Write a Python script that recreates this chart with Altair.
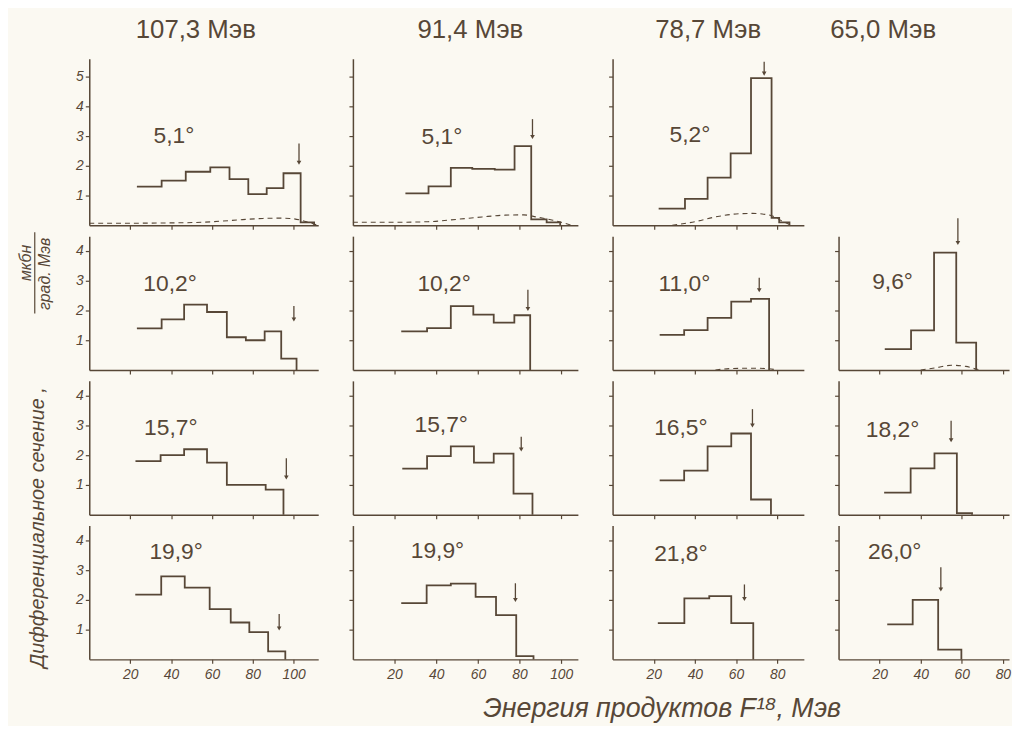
import altair as alt
import pandas as pd

# ---------------- data ----------------
COL_TITLES = ["107,3 Мэв", "91,4 Мэв", "78,7 Мэв", "65,0 Мэв"]
X_TICKS_WIDE = [20, 40, 60, 80, 100]
X_TICKS_NARROW = [20, 40, 60, 80]
Y_TICKS_TOP = [1, 2, 3, 4, 5]
Y_TICKS = [1, 2, 3, 4]

# bin edges (MeV) and heights of each step histogram
E11 = [23.3, 35.4, 47.2, 59.2, 68.6, 77.8, 86.8, 95.0, 103.4, 110.0]
V11 = [1.30, 1.50, 1.80, 1.95, 1.55, 1.05, 1.25, 1.75, 0.10]
E12 = [25.2, 36.3, 47.0, 57.3, 68.1, 77.6, 85.6, 93.0, 99.5]
V12 = [1.07, 1.31, 1.93, 1.90, 1.87, 2.66, 0.20, 0.10]
E13 = [22.4, 35.2, 46.2, 57.4, 67.3, 77.3, 81.0, 86.0]
V13 = [0.56, 0.89, 1.60, 2.42, 4.95, 0.25, 0.10]

E21 = [23.3, 35.4, 46.4, 57.6, 67.3, 76.6, 85.8, 93.9, 101.4]
V21 = [1.40, 1.70, 2.20, 1.95, 1.10, 1.00, 1.30, 0.38]
E22 = [23.2, 35.6, 47.0, 57.8, 67.6, 77.5, 85.1]
V22 = [1.30, 1.41, 2.15, 1.86, 1.59, 1.84]
E23 = [22.9, 34.8, 46.2, 57.7, 67.3, 76.1]
V23 = [1.18, 1.34, 1.75, 2.30, 2.39]
E24 = [22.5, 35.3, 46.5, 57.3, 67.0]
V24 = [0.70, 1.33, 3.95, 0.92]

E31 = [22.6, 34.9, 46.4, 57.6, 67.3, 86.3, 95.0]
V31 = [1.80, 2.00, 2.20, 1.75, 1.00, 0.84]
E32 = [23.7, 35.6, 47.0, 58.1, 67.6, 77.1, 86.2]
V32 = [1.55, 1.97, 2.30, 1.75, 2.05, 0.71]
E33 = [22.9, 34.8, 46.2, 57.7, 67.3, 77.0]
V33 = [1.15, 1.48, 2.30, 2.73, 0.51]
E34 = [22.2, 35.1, 46.7, 57.6, 65.0]
V34 = [0.74, 1.56, 2.06, 0.05]

E41 = [22.5, 35.2, 46.7, 58.9, 69.2, 78.3, 87.5, 95.9]
V41 = [2.18, 2.79, 2.41, 1.69, 1.24, 0.92, 0.27]
E42 = [23.2, 35.4, 47.0, 58.9, 68.7, 78.4, 86.7]
V42 = [1.89, 2.49, 2.55, 2.10, 1.49, 0.11]
E43 = [22.0, 34.9, 47.0, 57.7, 68.4]
V43 = [1.22, 2.05, 2.13, 1.22]
E44 = [23.7, 36.1, 48.5, 59.8]
V44 = [1.18, 2.00, 0.33]

# dashed background curves
D11_E = [0, 20, 40, 55, 65, 75, 85, 92, 98, 103, 108, 112]
D11_V = [0.07, 0.07, 0.08, 0.10, 0.14, 0.19, 0.23, 0.24, 0.23, 0.18, 0.08, 0.0]
D12_E = [0, 20, 36, 50, 62, 73, 82, 88, 96, 105]
D12_V = [0.10, 0.10, 0.12, 0.20, 0.28, 0.34, 0.35, 0.28, 0.17, 0.0]
D13_E = [29, 40, 50, 60, 68, 77, 83, 87]
D13_V = [0.0, 0.12, 0.28, 0.38, 0.40, 0.33, 0.12, 0.0]
D23_E = [50, 58, 68, 76, 80]
D23_V = [0.0, 0.05, 0.06, 0.04, 0.0]
D24_E = [40, 48, 55, 62, 67, 69]
D24_V = [0.0, 0.08, 0.16, 0.12, 0.03, 0.0]

# kinematic-limit arrows: energy, top, bottom
A11 = [102.6, 2.75, 2.10]
A12 = [86.2, 3.57, 2.97]
A13 = [73.7, 5.50, 5.10]
A21 = [100.1, 2.15, 1.70]
A22 = [84.0, 2.70, 2.05]
A23 = [71.3, 3.10, 2.68]
A24 = [58.1, 5.10, 4.27]
A31 = [96.4, 1.90, 1.25]
A32 = [80.8, 2.62, 2.19]
A33 = [68.0, 3.55, 3.00]
A34 = [54.8, 3.16, 2.50]
A41 = [92.9, 1.53, 1.04]
A42 = [78.0, 2.56, 2.00]
A43 = [64.1, 2.52, 2.03]
A44 = [49.8, 3.10, 2.35]

ANGLES = {
    (0, 0): "5,1°", (0, 1): "5,1°", (0, 2): "5,2°",
    (1, 0): "10,2°", (1, 1): "10,2°", (1, 2): "11,0°", (1, 3): "9,6°",
    (2, 0): "15,7°", (2, 1): "15,7°", (2, 2): "16,5°", (2, 3): "18,2°",
    (3, 0): "19,9°", (3, 1): "19,9°", (3, 2): "21,8°", (3, 3): "26,0°",
}

PANELS = {
    (0, 0): (E11, V11, A11, (D11_E, D11_V)),
    (0, 1): (E12, V12, A12, (D12_E, D12_V)),
    (0, 2): (E13, V13, A13, (D13_E, D13_V)),
    (1, 0): (E21, V21, A21, None),
    (1, 1): (E22, V22, A22, None),
    (1, 2): (E23, V23, A23, (D23_E, D23_V)),
    (1, 3): (E24, V24, A24, (D24_E, D24_V)),
    (2, 0): (E31, V31, A31, None),
    (2, 1): (E32, V32, A32, None),
    (2, 2): (E33, V33, A33, None),
    (2, 3): (E34, V34, A34, None),
    (3, 0): (E41, V41, A41, None),
    (3, 1): (E42, V42, A42, None),
    (3, 2): (E43, V43, A43, None),
    (3, 3): (E44, V44, A44, None),
}

# ---------------- layout / style ----------------
INK = "#574737"
BG = "#fbf9f2"
FONT = "Liberation Sans"
XMAX = [112, 108, 93, 83]
WIDTH = [231, 227, 193, 172]
YMAX = [5.6, 4.5, 4.5, 4.5]
PX_PER_UNIT = 30
TITLE_DX = [-8, 5, 0, -41]
LABEL_POS = {
    (0, 0): (41.4, 3.0), (0, 1): (42.7, 2.97), (0, 2): (37.6, 3.05),
    (1, 0): (39.5, 2.9), (1, 1): (43.8, 2.9), (1, 2): (34.9, 2.88), (1, 3): (26.3, 2.94),
    (2, 0): (39.9, 2.92), (2, 1): (42.4, 3.0), (2, 2): (33.2, 2.9), (2, 3): (26.3, 2.83),
    (3, 0): (42.5, 3.6), (3, 1): (40.6, 3.64), (3, 2): (33.2, 3.55), (3, 3): (27.3, 3.6),
}


def col_title(c):
    return alt.TitleParams(COL_TITLES[c], fontSize=26, font=FONT, fontWeight="normal",
                           color=INK, dx=TITLE_DX[c], offset=16)


def make_panel(r, c):
    xs = alt.Scale(domain=[0, XMAX[c]], nice=False, zero=False)
    ys = alt.Scale(domain=[0, YMAX[r]], nice=False)
    xax = alt.Axis(values=X_TICKS_WIDE if c < 2 else X_TICKS_NARROW, labels=(r == 3),
                   title=None, grid=False, tickSize=4, labelFontSize=14, labelFont=FONT,
                   labelFontStyle="italic", labelPadding=4, labelFlush=False)
    yax = alt.Axis(values=Y_TICKS_TOP if r == 0 else Y_TICKS, labels=(c == 0),
                   title=None, grid=False, tickSize=4, labelFontSize=14, labelFont=FONT,
                   labelFontStyle="italic", labelPadding=2)
    size = dict(width=WIDTH[c], height=YMAX[r] * PX_PER_UNIT)

    if (r, c) not in PANELS:
        ch = alt.Chart(pd.DataFrame({"E": [0], "v": [0]})).mark_point(opacity=0).encode(
            x=alt.X("E:Q", scale=xs, axis=None), y=alt.Y("v:Q", scale=ys, axis=None))
        if r == 0:
            ch = ch.properties(title=col_title(c))
        return ch.properties(**size)

    E, V, A, D = PANELS[(r, c)]
    X = alt.X("E:Q", scale=xs, axis=xax)
    Y = alt.Y("v:Q", scale=ys, axis=yax)

    hist = alt.Chart(pd.DataFrame({"E": E, "v": list(V) + [0]})).mark_line(
        interpolate="step-after", color=INK, strokeWidth=1.8).encode(x=X, y=Y)
    layers = [hist]
    if D is not None:
        layers.append(alt.Chart(pd.DataFrame({"E": D[0], "v": D[1]})).mark_line(
            interpolate="monotone", color=INK, strokeWidth=1.1, strokeDash=[5, 4]).encode(x=X, y=Y))
    adf = pd.DataFrame({"E": [A[0]], "v": [A[1]], "v2": [A[2]]})
    layers.append(alt.Chart(adf).mark_rule(color=INK, strokeWidth=1.3).encode(
        x=X, y=Y, y2=alt.Y2("v2:Q")))
    layers.append(alt.Chart(adf).mark_point(shape="triangle-down", filled=True, color=INK,
                                            size=22, opacity=1).encode(
        x=X, y=alt.Y("v2:Q", scale=ys, axis=yax)))
    lx, ly = LABEL_POS[(r, c)]
    layers.append(alt.Chart(pd.DataFrame({"E": [lx], "v": [ly], "t": [ANGLES[(r, c)]]})).mark_text(
        fontSize=23, font=FONT, color=INK).encode(x=X, y=Y, text="t:N"))

    one = pd.DataFrame({"a": [0]})
    if (r, c) == (2, 0):
        # y-axis title of the whole figure
        layers.append(alt.Chart(one).mark_text(angle=270, fontSize=20, font=FONT,
                                               fontStyle="italic", color=INK).encode(
            x=alt.value(-52), y=alt.value(148), text=alt.value("Дифференциальное сечение ,")))
        layers.append(alt.Chart(one).mark_text(angle=270, fontSize=16, font=FONT,
                                               fontStyle="italic", color=INK).encode(
            x=alt.value(-64), y=alt.value(-119), text=alt.value("мкбн")))
        layers.append(alt.Chart(one).mark_rule(color=INK, strokeWidth=1.2).encode(
            x=alt.value(-55), y=alt.value(-150), y2=alt.value(-68)))
        layers.append(alt.Chart(one).mark_text(angle=270, fontSize=16, font=FONT,
                                               fontStyle="italic", color=INK).encode(
            x=alt.value(-45), y=alt.value(-108), text=alt.value("град. Мэв")))
    if (r, c) == (3, 2):
        layers.append(alt.Chart(one).mark_text(fontSize=27, font=FONT, fontStyle="italic",
                                               color=INK).encode(
            x=alt.value(50), y=alt.value(185),
            text=alt.value("Энергия   продуктов   F¹⁸,  Мэв")))

    ch = alt.layer(*layers).properties(**size)
    if r == 0:
        ch = ch.properties(title=col_title(c))
    return ch


panels = [make_panel(r, c) for r in range(4) for c in range(4)]

chart = alt.concat(*panels, columns=4, bounds="flush", align="each",
                   spacing={"row": 11, "column": 35}).resolve_scale(
    x="independent", y="independent").properties(
    background=BG, padding={"left": 9, "top": 5, "right": 0, "bottom": 0}
).configure_view(stroke="transparent").configure_axis(
    domainColor=INK, tickColor=INK, labelColor=INK, domainWidth=1.5, tickWidth=1.2)

chart.save("out.html", embed_options={"renderer": "svg", "actions": False})
